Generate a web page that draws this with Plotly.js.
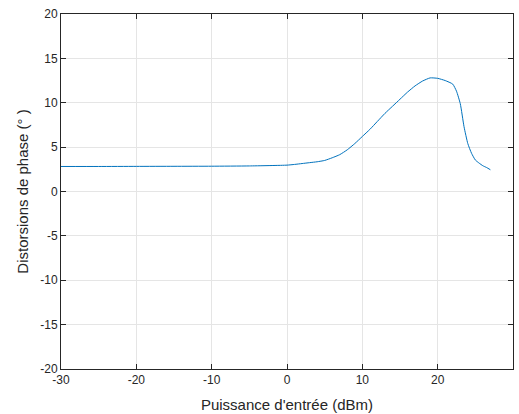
<!DOCTYPE html>
<html>
<head>
<meta charset="utf-8">
<script src="https://cdn.plot.ly/plotly-3.0.1.min.js"></script>
<style>html,body{margin:0;padding:0;background:#fff;}#chart{width:519px;height:414px;}</style>
</head>
<body>
<div id="chart"></div>
<script>
const inputPower = [-30, -25, -20, -15, -10, -5, 0, 1, 2, 3, 4, 5, 6, 7, 8, 9, 10, 11, 12, 13, 14, 15, 16, 17, 18, 19, 20, 21, 22, 22.5, 23, 23.5, 24, 24.5, 25, 25.5, 26, 26.5, 27];
const phaseDistortion = [2.82, 2.82, 2.83, 2.84, 2.85, 2.88, 2.97, 3.05, 3.15, 3.25, 3.35, 3.5, 3.8, 4.15, 4.7, 5.4, 6.2, 7.0, 7.9, 8.8, 9.6, 10.4, 11.2, 11.9, 12.45, 12.8, 12.75, 12.5, 12.1, 11.3, 9.9, 7.3, 5.4, 4.3, 3.55, 3.2, 2.9, 2.7, 2.45];
const xTicks = [-30, -20, -10, 0, 10, 20, 30];
const xTickText = ['-30', '-20', '-10', '0', '10', '20', '30'];
const yTicks = [-20, -15, -10, -5, 0, 5, 10, 15, 20];
const yTickText = ['-20', '-15', '-10', '-5', '0', '5', '10', '15', '20'];

const fontFam = 'Liberation Sans, Arial, sans-serif';
const axisCommon = {
  showline: true, linecolor: '#262626', linewidth: 1, mirror: 'ticks',
  ticks: 'inside', ticklen: 5, tickcolor: '#262626',
  showgrid: true, gridcolor: '#e5e5e5', gridwidth: 1,
  zeroline: false, tickfont: {family: fontFam, size: 12, color: '#262626'}
};

Plotly.newPlot('chart', [{
  x: inputPower, y: phaseDistortion, type: 'scatter', mode: 'lines',
  line: {color: '#0072BD', width: 1, shape: 'spline', smoothing: 0.5}
}], {
  width: 519, height: 414,
  margin: {l: 61, r: 6, t: 14, b: 45},
  paper_bgcolor: '#fff', plot_bgcolor: '#fff',
  showlegend: false,
  xaxis: Object.assign({}, axisCommon, {range: [-30, 30], tickvals: xTicks, ticktext: xTickText,
    title: {text: "Puissance d'entrée (dBm)", font: {family: fontFam, size: 15, color: '#262626'}, standoff: 13}}),
  yaxis: Object.assign({}, axisCommon, {range: [-20, 20], tickvals: yTicks, ticktext: yTickText,
    title: {text: 'Distorsions de phase (° )', font: {family: fontFam, size: 15, color: '#262626'}, standoff: 8}})
}, {displayModeBar: false, staticPlot: true});
</script>
</body>
</html>
